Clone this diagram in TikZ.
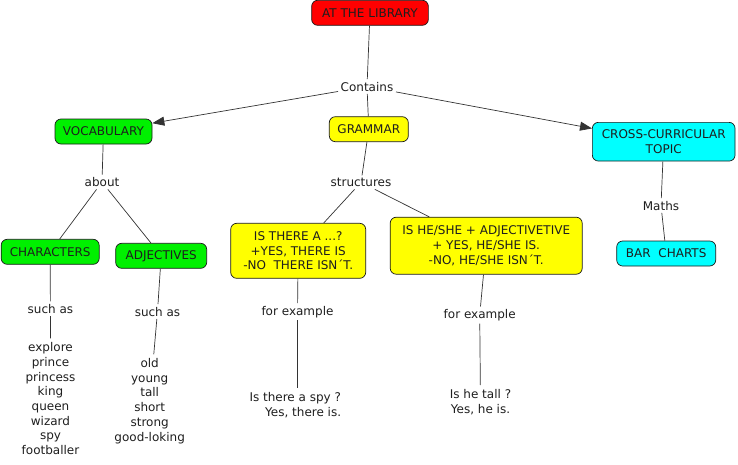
\documentclass[tikz,border=0pt]{standalone}
\usepackage{fontspec}
\setmainfont{DejaVu Sans}
\usetikzlibrary{arrows.meta}
\definecolor{libred}{RGB}{255,0,0}
\definecolor{vgreen}{RGB}{0,240,0}
\definecolor{gyellow}{RGB}{255,255,0}
\definecolor{tcyan}{RGB}{0,255,255}
\definecolor{txt}{RGB}{30,30,30}
\begin{document}
\begin{tikzpicture}[x=1pt,y=-1pt,
  every node/.style={font=\fontsize{12}{14.7}\selectfont, text=txt},
  box/.style={draw=black!90, line width=0.7pt, rounded corners=6pt, inner sep=0pt, align=center},
  lbl/.style={inner sep=2.5pt, align=center},
  conn/.style={line width=0.7pt, draw=black!80},
  arr/.style={conn, -{Triangle[length=12pt,width=9pt]}}]
\useasboundingbox (0,0) rectangle (738,464);
% boxes
\node[box, fill=libred, minimum width=116.7, minimum height=25] (lib) at (370,12.8) {AT THE LIBRARY};
\node[box, fill=vgreen, minimum width=97, minimum height=25] (voc) at (103.5,131.5) {VOCABULARY};
\node[box, fill=gyellow, minimum width=79, minimum height=25] (gram) at (368.8,129.2) {GRAMMAR};
\node[box, fill=tcyan, minimum width=142.7, minimum height=38.7] (cross) at (663.7,141.7) {CROSS-CURRICULAR\\TOPIC};
\node[box, fill=vgreen, minimum width=98, minimum height=25] (chars) at (50.2,251.8) {CHARACTERS};
\node[box, fill=vgreen, minimum width=91, minimum height=25] (adjs) at (161.2,255.8) {ADJECTIVES};
\node[box, fill=gyellow, minimum width=135, minimum height=55] (isthere) at (298.2,250.8) {IS THERE A ...?\\+YES, THERE IS\\-NO\ \ THERE ISN´T.};
\node[box, fill=gyellow, minimum width=192, minimum height=57] (ishe) at (486.2,245.7) {IS HE/SHE + ADJECTIVETIVE\\+ YES, HE/SHE IS.\\-NO, HE/SHE ISN´T.};
\node[box, fill=tcyan, minimum width=99, minimum height=25] (bar) at (666.2,253.5) {BAR\ \ CHARTS};
% labels
\node[lbl, anchor=base] (contains) at (367,91) {Contains};
\node[lbl, anchor=base] (about) at (102,186.5) {about};
\node[lbl, anchor=base] (structures) at (361,186.5) {structures};
\node[lbl, anchor=base] (maths) at (661,210) {Maths};
\node[lbl, anchor=base] (such1) at (50.4,313.3) {such as};
\node[lbl, anchor=base] (such2) at (157.5,316) {such as};
\node[lbl, anchor=base] (forex1) at (297.5,315) {for example};
\node[lbl, anchor=base] (forex2) at (479.7,318.3) {for example};
% lists
\node[lbl, inner sep=4pt] (chl) at (50.5,398.6) {explore\\prince\\princess\\king\\queen\\wizard\\spy\\footballer};
\node[lbl, inner sep=4pt] (adl) at (149.7,401) {old\\young\\tall\\short\\strong\\good-loking};
\node[lbl, inner sep=4pt, align=left, anchor=west] (ex1) at (245.3,405) {Is there a spy ?\\\hspace*{15.7pt}Yes, there is.};
\node[lbl, inner sep=4pt] (ex2) at (480.5,402) {Is he tall ?\\Yes, he is.};
% connectors
\draw[conn] (lib) -- (contains);
\draw[arr] (contains) -- (voc);
\draw[conn] (contains) -- (gram);
\draw[arr] (contains) -- (cross);
\draw[conn] (voc) -- (about);
\draw[conn] (about) -- (chars);
\draw[conn] (about) -- (adjs);
\draw[conn] (gram) -- (structures);
\draw[conn] (structures) -- (isthere);
\draw[conn] (structures) -- (ishe);
\draw[conn] (cross) -- (maths);
\draw[conn] (maths) -- (bar);
\draw[conn] (chars) -- (such1);
\draw[conn] (such1) -- (chl);
\draw[conn] (adjs) -- (such2);
\draw[conn] (such2) -- (adl);
\draw[conn] (isthere) -- (forex1);
\draw[conn] (forex1) -- (forex1 |- ex1.north);
\draw[conn] (ishe) -- (forex2);
\draw[conn] (forex2) -- (ex2);
\end{tikzpicture}
\end{document}
